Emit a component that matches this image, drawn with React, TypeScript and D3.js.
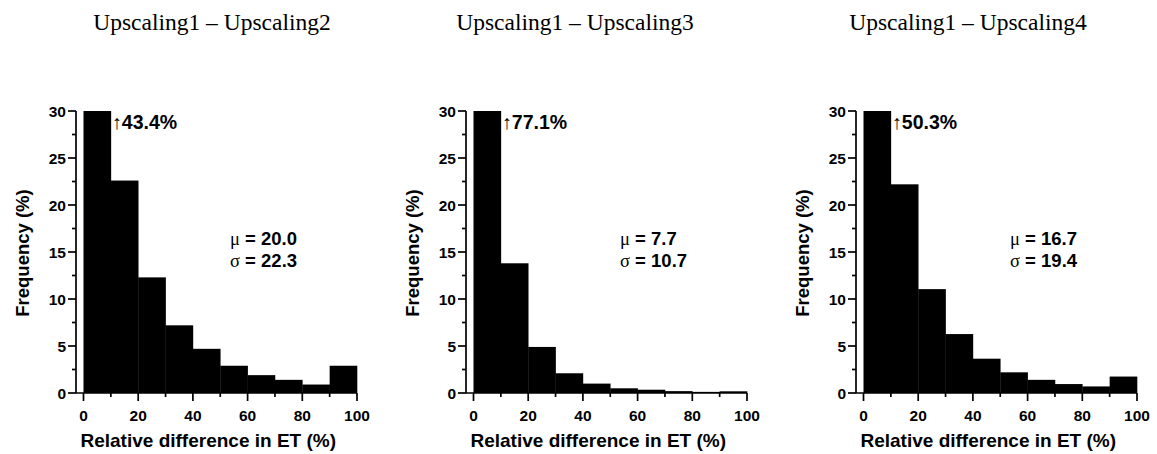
import React from "react";
import * as d3 from "d3";

const titles = ["Upscaling1 – Upscaling2", "Upscaling1 – Upscaling3", "Upscaling1 – Upscaling4"];
const binEdges = [0, 10, 20, 30, 40, 50, 60, 70, 80, 90, 100];
const freqUp2 = [43.4, 22.6, 12.3, 7.2, 4.7, 2.9, 1.9, 1.4, 0.9, 2.9];
const freqUp3 = [77.1, 13.8, 4.9, 2.1, 1.0, 0.5, 0.35, 0.2, 0.12, 0.18];
const freqUp4 = [50.3, 22.2, 11.05, 6.27, 3.65, 2.2, 1.4, 0.95, 0.7, 1.75];
const peakLabels = ["43.4%", "77.1%", "50.3%"];
const meanLabels = ["20.0", "7.7", "16.7"];
const sdLabels = ["22.3", "10.7", "19.4"];
const yMajorTicks = [0, 5, 10, 15, 20, 25, 30];
const yMinorTicks = [2.5, 7.5, 12.5, 17.5, 22.5, 27.5];
const xMajorTicks = [0, 20, 40, 60, 80, 100];
const xMinorTicks = [10, 30, 50, 70, 90];

const series = [freqUp2, freqUp3, freqUp4];
const panelAxisX = [76, 466, 856];
const titleCenterX = [212, 575, 968];

const W = 1157;
const H = 454;
const yTop = 111;
const yBottom = 393;
const sans = "'Liberation Sans', Arial, sans-serif";

function Panel({ idx }: { idx: number }) {
  const ax = panelAxisX[idx];
  const x = d3.scaleLinear().domain([0, 100]).range([ax + 7.5, ax + 281]);
  const y = d3.scaleLinear().domain([0, 30]).range([yBottom, yTop]);
  const data = series[idx];
  const bins = data.map((v, i) => ({ x0: binEdges[i], x1: binEdges[i + 1], v: Math.min(v, 30) }));
  return (
    <g>
      <text x={titleCenterX[idx]} y={30} textAnchor="middle" fontFamily="'Liberation Serif', 'Times New Roman', serif" fontSize={23.5} fill="#000">
        {titles[idx]}
      </text>
      {bins.map((b, i) => (
        <rect key={i} x={x(b.x0)} y={y(b.v)} width={x(b.x1) - x(b.x0) + 0.3} height={y(0) - y(b.v)} fill="#000" />
      ))}
      <line x1={ax} x2={ax} y1={y(30)} y2={y(0)} stroke="#000" strokeWidth={1.7} />
      <line x1={ax} x2={x(100)} y1={y(0)} y2={y(0)} stroke="#000" strokeWidth={1.7} />
      {yMajorTicks.map((t) => (
        <g key={"ym" + t}>
          <line x1={ax - 8} x2={ax} y1={y(t)} y2={y(t)} stroke="#000" strokeWidth={1.7} />
          <text x={ax - 10} y={y(t)} dy="0.36em" textAnchor="end" fontFamily={sans} fontWeight="bold" fontSize={15.5} fill="#000">
            {t}
          </text>
        </g>
      ))}
      {yMinorTicks.map((t) => (
        <line key={"yn" + t} x1={ax - 4} x2={ax} y1={y(t)} y2={y(t)} stroke="#000" strokeWidth={1.7} />
      ))}
      {xMajorTicks.map((t) => (
        <g key={"xm" + t}>
          <line x1={x(t)} x2={x(t)} y1={y(0)} y2={y(0) + 8} stroke="#000" strokeWidth={1.7} />
          <text x={x(t)} y={y(0) + 28} textAnchor="middle" fontFamily={sans} fontWeight="bold" fontSize={15.5} fill="#000">
            {t}
          </text>
        </g>
      ))}
      {xMinorTicks.map((t) => (
        <line key={"xn" + t} x1={x(t)} x2={x(t)} y1={y(0)} y2={y(0) + 4} stroke="#000" strokeWidth={1.7} />
      ))}
      <text x={x(50) - 12} y={447} textAnchor="middle" fontFamily={sans} fontWeight="bold" fontSize={19} fill="#000">
        Relative difference in ET (%)
      </text>
      <text
        transform={`translate(${ax - 47},${(yTop + yBottom) / 2 + 1}) rotate(-90)`}
        textAnchor="middle"
        fontFamily={sans}
        fontWeight="bold"
        fontSize={18.5}
        fill="#000"
      >
        Frequency (%)
      </text>
      <text x={x(10) + 1} y={129} fontFamily={sans} fontSize={19.5} fill="#000">
        <tspan fontWeight="normal" fontFamily="'Liberation Sans', sans-serif" fontSize={20}>↑</tspan>
        <tspan fontWeight="bold">{peakLabels[idx]}</tspan>
      </text>
      <text x={ax + 154} y={245} fontFamily={sans} fontSize={18.5} fill="#000">
        <tspan fontWeight="normal" fontFamily="'Liberation Serif', serif">μ</tspan>
        <tspan fontWeight="bold">{" = " + meanLabels[idx]}</tspan>
      </text>
      <text x={ax + 154} y={267} fontFamily={sans} fontSize={18.5} fill="#000">
        <tspan fontWeight="normal" fontFamily="'Liberation Serif', serif">σ</tspan>
        <tspan fontWeight="bold">{" = " + sdLabels[idx]}</tspan>
      </text>
    </g>
  );
}

export default function App() {
  return (
    <div style={{ position: "absolute", left: 0, top: 0 }}>
      <svg width={W} height={H} viewBox={`0 0 ${W} ${H}`} style={{ display: "block", background: "#fff" }}>
        {[0, 1, 2].map((i) => (
          <Panel key={i} idx={i} />
        ))}
      </svg>
    </div>
  );
}
